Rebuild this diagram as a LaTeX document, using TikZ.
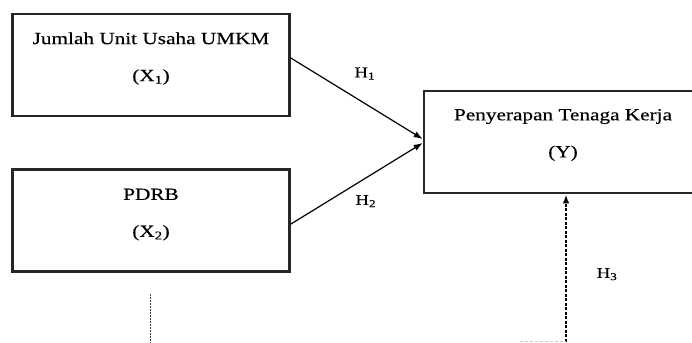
\documentclass[tikz,border=0pt]{standalone}
\usepackage{fontspec}
\setmainfont[FakeStretch=1.25,FakeBold=0.4]{Liberation Serif}
\usetikzlibrary{arrows.meta,positioning,calc}

\begin{document}
\begin{tikzpicture}[
    x=1pt,y=1pt,>={Latex[length=9pt,width=6.5pt]},
    var/.style={rectangle,draw=black!85,line width=2.6pt,minimum width=277pt,minimum height=102pt,inner sep=0pt},
    txt/.style={align=center,font=\fontsize{17}{20}\selectfont},
    hyp/.style={font=\fontsize{15}{18}\selectfont,inner sep=1pt}]
    \useasboundingbox (0,0) rectangle (692,-342);
    \clip (0,0) rectangle (692,-342);

    \node[var,label={[txt,yshift=6.5pt]center:Jumlah Unit Usaha UMKM\\[17pt](X\textsubscript{1})}] (X1) at (151,-65) {};
    \node[var,label={[txt,yshift=6pt]center:PDRB\\[17pt](X\textsubscript{2})}] (X2) [below=51pt of X1] {};
    \node[var,minimum width=278pt,label={[txt,yshift=7pt]center:Penyerapan Tenaga Kerja\\[17pt](Y)}] (Y) at (563,-142) {};

    \coordinate (h3s) at (566,-346);
    \coordinate (d1) at (150,-294);
    \coordinate (d2) at (150,-346);
    \coordinate (d3) at (520,-341.5);

    \draw[->,line width=1.2pt] ([yshift=7pt]X1.east) -- ([yshift=3pt]Y.west)
        node[hyp,midway,xshift=8pt,yshift=25pt] (h1) {H\textsubscript{1}};
    \draw[->,line width=1.2pt] ([yshift=-3.5pt]X2.east) -- ([yshift=-1pt]Y.west)
        node[hyp,midway,xshift=9pt,yshift=-17.5pt] (h2) {H\textsubscript{2}};
    \draw[->,line width=1.8pt,dash pattern=on 3pt off 1.5pt] (h3s) -- ([xshift=3pt]Y.south)
        node[hyp,midway,xshift=41pt,yshift=-4pt] (h3) {H\textsubscript{3}};

    \draw[line width=1pt,black!75,dash pattern=on 2pt off 1pt] (d1) -- (d2);
    \draw[line width=0.8pt,black!20,dash pattern=on 3pt off 2pt] (d3) -- (d3 -| h3s);
  \end{tikzpicture}
\end{document}
